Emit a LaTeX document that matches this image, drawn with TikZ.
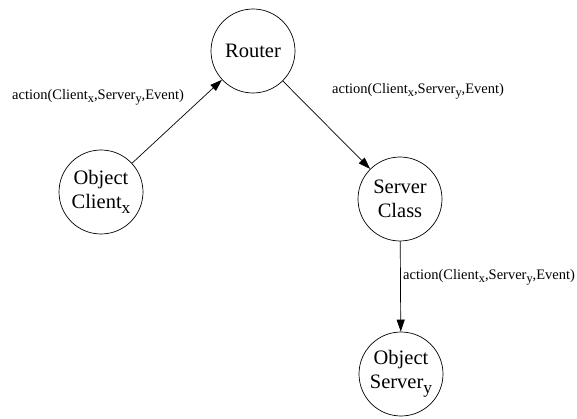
\documentclass[tikz,border=0pt]{standalone}
\usepackage{fontspec}
\setmainfont{Liberation Serif}
\usetikzlibrary{arrows.meta}
\newcommand\lowsub[1]{\raisebox{-0.5ex}{\scalebox{0.85}{#1}}}
\begin{document}
\begin{tikzpicture}[x=1pt,y=-1pt,
  state/.style={draw,circle,minimum size=84pt,inner sep=0pt,line width=0.7pt,font=\fontsize{20.5}{24}\selectfont,align=center},
  flow/.style={-{Triangle[length=12pt,width=8pt]},line width=0.7pt},
  lbl/.style={font=\fontsize{14.5}{16}\selectfont,inner sep=0pt}]
\useasboundingbox (0,0) rectangle (577,419);
\clip (0,0) rectangle (577,419);
\node[state] (router) at (253,51) {Router};
\node[state] (client) at (101,192) {Object\\Client\lowsub{x}};
\node[state] (sclass) at (400,199) {Server\\Class};
\node[state] (oserver) at (401,374) {Object\\Server\lowsub{y}};
\draw[flow] (client) -- (router);
\draw[flow] (router) -- (sclass);
\draw[flow] (sclass) -- (oserver);
\node[lbl,anchor=west] (l1) at (12,97) {action(Client\lowsub{x},Server\lowsub{y},Event)};
\node[lbl,anchor=west] (l2) at (332,91) {action(Client\lowsub{x},Server\lowsub{y},Event)};
\node[lbl,anchor=west] (l3) at (403,277) {action(Client\lowsub{x},Server\lowsub{y},Event)};
\end{tikzpicture}
\end{document}
